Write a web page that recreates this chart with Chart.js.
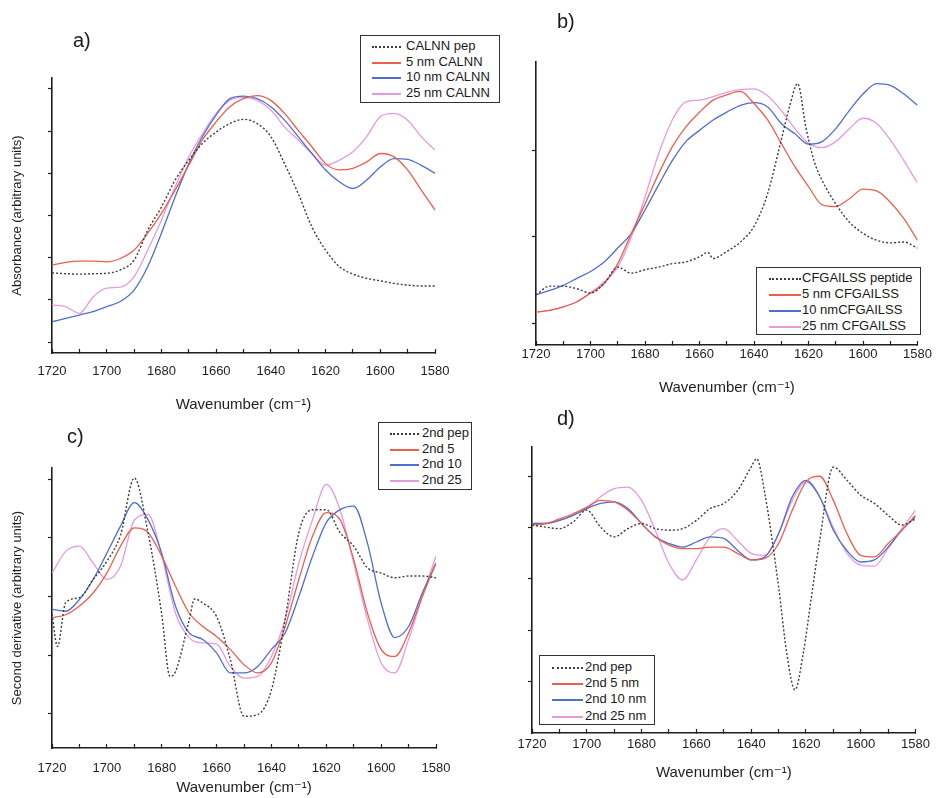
<!DOCTYPE html>
<html>
<head>
<meta charset="utf-8">
<script src="https://cdn.jsdelivr.net/npm/chart.js@4.4.0/dist/chart.umd.min.js"></script>
<style>
body { margin: 0; background: #fff; width: 938px; height: 798px; position: relative; overflow: hidden;
       font-family: "Liberation Sans", Arial, "DejaVu Sans", sans-serif; color: #1a1a1a; }
canvas { position: absolute; }
.tag { position: absolute; font-size: 20px; line-height: 22px; }
.legend { position: absolute; border: 1px solid #333; background: #fff; font-size: 13px; box-sizing: border-box; }
.legend .row { position: relative; white-space: nowrap; }
.legend .ln { position: absolute; height: 0; }
</style>
</head>
<body>
<canvas id="pa" style="left:0;top:0" width="470" height="414"></canvas>
<canvas id="pb" style="left:470px;top:0" width="468" height="397"></canvas>
<canvas id="pc" style="left:0;top:400px" width="470" height="397"></canvas>
<canvas id="pd" style="left:470px;top:400px" width="468" height="382"></canvas>

<div class="tag" style="left:73px;top:29px">a)</div>
<div class="tag" style="left:557px;top:10px">b)</div>
<div class="tag" style="left:67px;top:425px">c)</div>
<div class="tag" style="left:557px;top:407px">d)</div>

<div id="la" class="legend" style="left:360px;top:35px;width:140px;height:68px;padding-top:2px"></div>
<div id="lb" class="legend" style="left:756px;top:267px;width:165px;height:68px;padding-top:2px"></div>
<div id="lc" class="legend" style="left:378px;top:422px;width:94px;height:68px;padding-top:2px"></div>
<div id="ld" class="legend" style="left:539px;top:655px;width:116px;height:70px;padding-top:3px"></div>

<script>
// wavenumber grid (cm-1) shared by most series
const wn = [1720,1715,1710,1705,1700,1695,1690,1685,1680,1675,1670,1665,1660,1655,1650,1645,1640,1635,1630,1625,1620,1615,1610,1605,1600,1595,1590,1585,1580];
const xTicks = [1720,1710,1700,1690,1680,1670,1660,1650,1640,1630,1620,1610,1600,1590,1580];

// a) absorbance, CALNN
const aLabels = ['CALNN pep', '5 nm CALNN', '10 nm CALNN', '25 nm CALNN'];
const aPep = [1.64,1.62,1.61,1.62,1.63,1.71,1.94,2.65,3.2,3.84,4.31,4.71,4.98,5.18,5.28,5.18,4.87,4.23,3.52,2.73,2.18,1.79,1.61,1.51,1.45,1.39,1.35,1.33,1.33];
const aR5 = [1.82,1.89,1.92,1.92,1.90,1.98,2.18,2.58,3.05,3.6,4.19,4.79,5.22,5.58,5.77,5.84,5.73,5.42,5.02,4.63,4.23,4.08,4.12,4.27,4.47,4.39,4.08,3.6,3.13];
const aB10 = [0.48,0.56,0.64,0.72,0.84,0.96,1.23,1.79,2.58,3.44,4.23,4.87,5.38,5.77,5.83,5.77,5.58,5.26,4.87,4.47,4.08,3.8,3.64,3.84,4.15,4.35,4.33,4.19,4.0];
const aP25 = [0.88,0.84,0.68,1.07,1.28,1.3,1.55,2.18,2.89,3.68,4.39,4.94,5.42,5.73,5.8,5.73,5.5,5.1,4.79,4.47,4.19,4.31,4.51,4.87,5.34,5.42,5.26,4.87,4.55];
const aYTicks = [0,1,2,3,4,5,6];

// b) absorbance, CFGAILSS
const bLabels = ['CFGAILSS peptide', '5 nm CFGAILSS', '10 nmCFGAILSS', '25 nm CFGAILSS'];
const bPepWn = [1720,1715,1710,1705,1700,1695,1690,1685,1680,1675,1670,1665,1660,1657,1655,1650,1645,1640,1635,1630,1627,1624,1621,1618,1615,1610,1605,1600,1595,1590,1585,1580];
const bPep = [1.33,1.43,1.43,1.40,1.35,1.46,1.65,1.58,1.62,1.65,1.69,1.71,1.77,1.82,1.75,1.83,1.94,2.12,2.5,3.12,3.5,3.77,3.27,2.88,2.65,2.38,2.17,2.04,1.96,1.93,1.94,1.87];
const bR5 = [1.13,1.15,1.19,1.25,1.35,1.46,1.69,2.04,2.38,2.73,3.04,3.27,3.44,3.58,3.64,3.68,3.54,3.35,3.08,2.81,2.58,2.37,2.35,2.44,2.55,2.53,2.4,2.21,1.96];
const bB10 = [1.33,1.38,1.44,1.52,1.6,1.71,1.87,2.04,2.31,2.6,2.88,3.1,3.23,3.35,3.44,3.52,3.55,3.5,3.31,3.19,3.07,3.1,3.25,3.46,3.65,3.77,3.75,3.65,3.52];
const bP25 = [1.13,1.15,1.19,1.25,1.35,1.48,1.65,2.0,2.46,2.96,3.35,3.56,3.58,3.62,3.67,3.7,3.71,3.63,3.46,3.25,3.08,3.03,3.1,3.25,3.37,3.31,3.12,2.88,2.62];
const bYTicks = [1,2,3];

// c) second derivative, CALNN
const cLabels = ['2nd pep', '2nd 5', '2nd 10', '2nd 25'];
const cPepWn = [1720,1718,1715,1710,1705,1700,1695,1690,1685,1680,1677,1675,1670,1668,1665,1660,1655,1650,1645,1640,1635,1630,1625,1620,1615,1610,1605,1600,1595,1590,1585,1580];
const cPep = [2.7,2.15,2.9,2.98,3.29,3.6,4.05,5.02,4.09,2.7,1.64,1.72,2.6,2.96,2.89,2.66,1.93,0.96,0.99,1.41,2.61,4.09,4.48,4.48,4.09,3.86,3.49,3.4,3.32,3.35,3.35,3.32];
const cR5 = [2.64,2.69,2.84,3.06,3.4,3.86,4.17,4.09,3.69,3.18,2.72,2.49,2.32,2.1,1.84,1.7,1.87,2.49,3.29,4.03,4.43,4.31,3.63,2.72,2.1,1.98,2.38,3.0,3.57];
const cB10 = [2.78,2.75,2.95,3.29,3.74,4.2,4.6,4.31,3.74,2.84,2.38,2.27,2.04,1.7,1.7,1.81,2.1,2.38,3.0,3.69,4.26,4.48,4.54,3.91,2.89,2.3,2.49,3.06,3.57];
const cP25 = [3.4,3.77,3.86,3.57,3.29,3.52,4.3,4.4,3.7,2.72,2.3,2.21,2.19,1.81,1.61,1.64,1.98,2.61,3.57,4.31,4.91,4.48,3.57,2.61,1.87,1.7,2.27,3.0,3.69];
const cYTicks = [1,2,3,4,5];

// d) second derivative, CFGAILSS
const dLabels = ['2nd pep', '2nd 5 nm', '2nd 10 nm', '2nd 25 nm'];
const dPepWn = [1720,1715,1710,1705,1700,1695,1690,1685,1680,1675,1670,1665,1660,1655,1650,1645,1640,1638,1635,1630,1627,1624,1621,1618,1615,1610,1605,1600,1595,1590,1585,1580];
const dPep = [4.05,4.01,3.98,4.11,4.34,4.01,3.82,3.98,4.08,3.98,3.95,3.98,4.14,4.37,4.47,4.72,5.18,5.34,4.66,2.85,1.55,0.84,1.55,2.65,3.75,5.18,4.92,4.63,4.47,4.24,4.05,4.17];
const dR5 = [4.05,4.08,4.17,4.27,4.4,4.53,4.5,4.34,4.08,3.82,3.66,3.59,3.59,3.62,3.62,3.5,3.37,3.4,3.69,4.34,4.89,5.0,4.53,3.88,3.46,3.43,3.69,3.95,4.24];
const dB10 = [4.08,4.08,4.14,4.24,4.37,4.47,4.5,4.37,4.08,3.82,3.69,3.62,3.72,3.82,3.79,3.56,3.37,3.43,3.88,4.6,4.92,4.6,3.95,3.55,3.33,3.37,3.62,3.95,4.21];
const dP25 = [4.08,4.08,4.14,4.24,4.37,4.6,4.76,4.79,4.53,3.95,3.3,2.98,3.37,3.82,3.98,3.75,3.5,3.46,3.88,4.53,4.89,4.6,4.0,3.5,3.27,3.25,3.6,3.98,4.34];
const dYTicks = [1,2,3,4,5];

const FONT = '"Liberation Sans", Arial, "DejaVu Sans", sans-serif';
const INK = '#1f1f1f';
const styles = [
    { color: '#3c3c3c', dash: [2, 2], width: 1.4 },
    { color: '#e8604e', dash: [], width: 1.3 },
    { color: '#4f6fcb', dash: [], width: 1.3 },
    { color: '#e59ae0', dash: [], width: 1.3 }
];

Chart.defaults.font.family = FONT;
Chart.defaults.color = INK;

function pts(xs, ys) {
    return xs.map((x, i) => ({ x: x, y: ys[i] }));
}

function makePanel(id, p) {
    const datasets = p.series.map((s, i) => ({
        label: p.labels[i],
        data: pts(s[0], s[1]),
        borderColor: styles[i].color,
        borderDash: styles[i].dash,
        borderWidth: styles[i].width,
        pointRadius: 0,
        cubicInterpolationMode: 'monotone',
        fill: false
    }));

    new Chart(document.getElementById(id), {
        type: 'line',
        data: { datasets: datasets },
        options: {
            responsive: false,
            animation: false,
            events: [],
            layout: { padding: { top: p.top, right: p.right, left: 0, bottom: 0 } },
            plugins: { legend: { display: false }, tooltip: { enabled: false } },
            scales: {
                x: {
                    type: 'linear', reverse: true, min: 1580, max: 1720,
                    afterBuildTicks: s => { s.ticks = xTicks.map(v => ({ value: v })); },
                    afterFit: s => { s.height = p.xh; },
                    ticks: {
                        autoSkip: false, maxRotation: 0, padding: p.xpad,
                        font: { size: 13 }, color: INK,
                        callback: v => (v % 20 === 0 ? String(v) : '')
                    },
                    grid: { drawOnChartArea: false, drawTicks: true, tickLength: -4, color: INK, tickWidth: 1.2 },
                    border: { color: INK, width: 1.6 },
                    title: { display: true, text: 'Wavenumber (cm⁻¹)', font: { size: 15 }, color: INK, padding: 0 }
                },
                y: {
                    type: 'linear', min: p.ymin, max: p.ymax,
                    afterBuildTicks: s => { s.ticks = p.yTicks.map(v => ({ value: v })); },
                    afterFit: s => { s.width = p.yw; },
                    ticks: { display: false },
                    grid: { drawOnChartArea: false, drawTicks: true, tickLength: 4, color: INK, tickWidth: 1.2 },
                    border: { color: INK, width: 1.6 },
                    title: {
                        display: !!p.ytitle, text: p.ytitle || '', font: { size: 13 }, color: INK,
                        padding: { top: 10, bottom: 0 }
                    }
                }
            }
        }
    });

    // legend box built from the same labels and styles
    const box = document.getElementById(p.legend.id);
    p.labels.forEach((lab, i) => {
        const row = document.createElement('div');
        row.className = 'row';
        row.style.height = p.legend.rowH + 'px';
        row.style.lineHeight = p.legend.rowH + 'px';
        const ln = document.createElement('span');
        ln.className = 'ln';
        ln.style.left = p.legend.lineX + 'px';
        ln.style.width = p.legend.lineW + 'px';
        ln.style.top = Math.round(p.legend.rowH / 2) + 'px';
        ln.style.borderTop = (i === 0 ? '2px dotted ' : '2px solid ') + styles[i].color;
        const tx = document.createElement('span');
        tx.textContent = lab;
        tx.style.position = 'absolute';
        tx.style.left = p.legend.textX + 'px';
        row.appendChild(ln);
        row.appendChild(tx);
        box.appendChild(row);
    });
}

makePanel('pa', {
    labels: aLabels,
    series: [[wn, aPep], [wn, aR5], [wn, aB10], [wn, aP25]],
    ymin: -0.26, ymax: 6.26, yTicks: aYTicks,
    top: 78, right: 35, yw: 52, xh: 61, xpad: 15,
    ytitle: 'Absorbance (arbitrary units)',
    legend: { id: 'la', rowH: 15.5, lineX: 11, lineW: 29, textX: 45 }
});

makePanel('pb', {
    labels: bLabels,
    series: [[bPepWn, bPep], [wn, bR5], [wn, bB10], [wn, bP25]],
    ymin: 0.75, ymax: 4.02, yTicks: bYTicks,
    top: 62, right: 17, yw: 66, xh: 52, xpad: 6,
    legend: { id: 'lb', rowH: 16, lineX: 12, lineW: 32, textX: 45 }
});

makePanel('pc', {
    labels: cLabels,
    series: [[cPepWn, cPep], [wn, cR5], [wn, cB10], [wn, cP25]],
    ymin: 0.42, ymax: 5.19, yTicks: cYTicks,
    top: 68, right: 34, yw: 52, xh: 49, xpad: 17,
    ytitle: 'Second derivative (arbitrary units)',
    legend: { id: 'lc', rowH: 15.5, lineX: 11, lineW: 29, textX: 43 }
});

makePanel('pd', {
    labels: dLabels,
    series: [[dPepWn, dPep], [wn, dR5], [wn, dB10], [wn, dP25]],
    ymin: 0, ymax: 5.57, yTicks: dYTicks,
    top: 47, right: 20, yw: 62, xh: 49, xpad: 8,
    legend: { id: 'ld', rowH: 16.2, lineX: 12, lineW: 31, textX: 45 }
});
</script>
</body>
</html>
